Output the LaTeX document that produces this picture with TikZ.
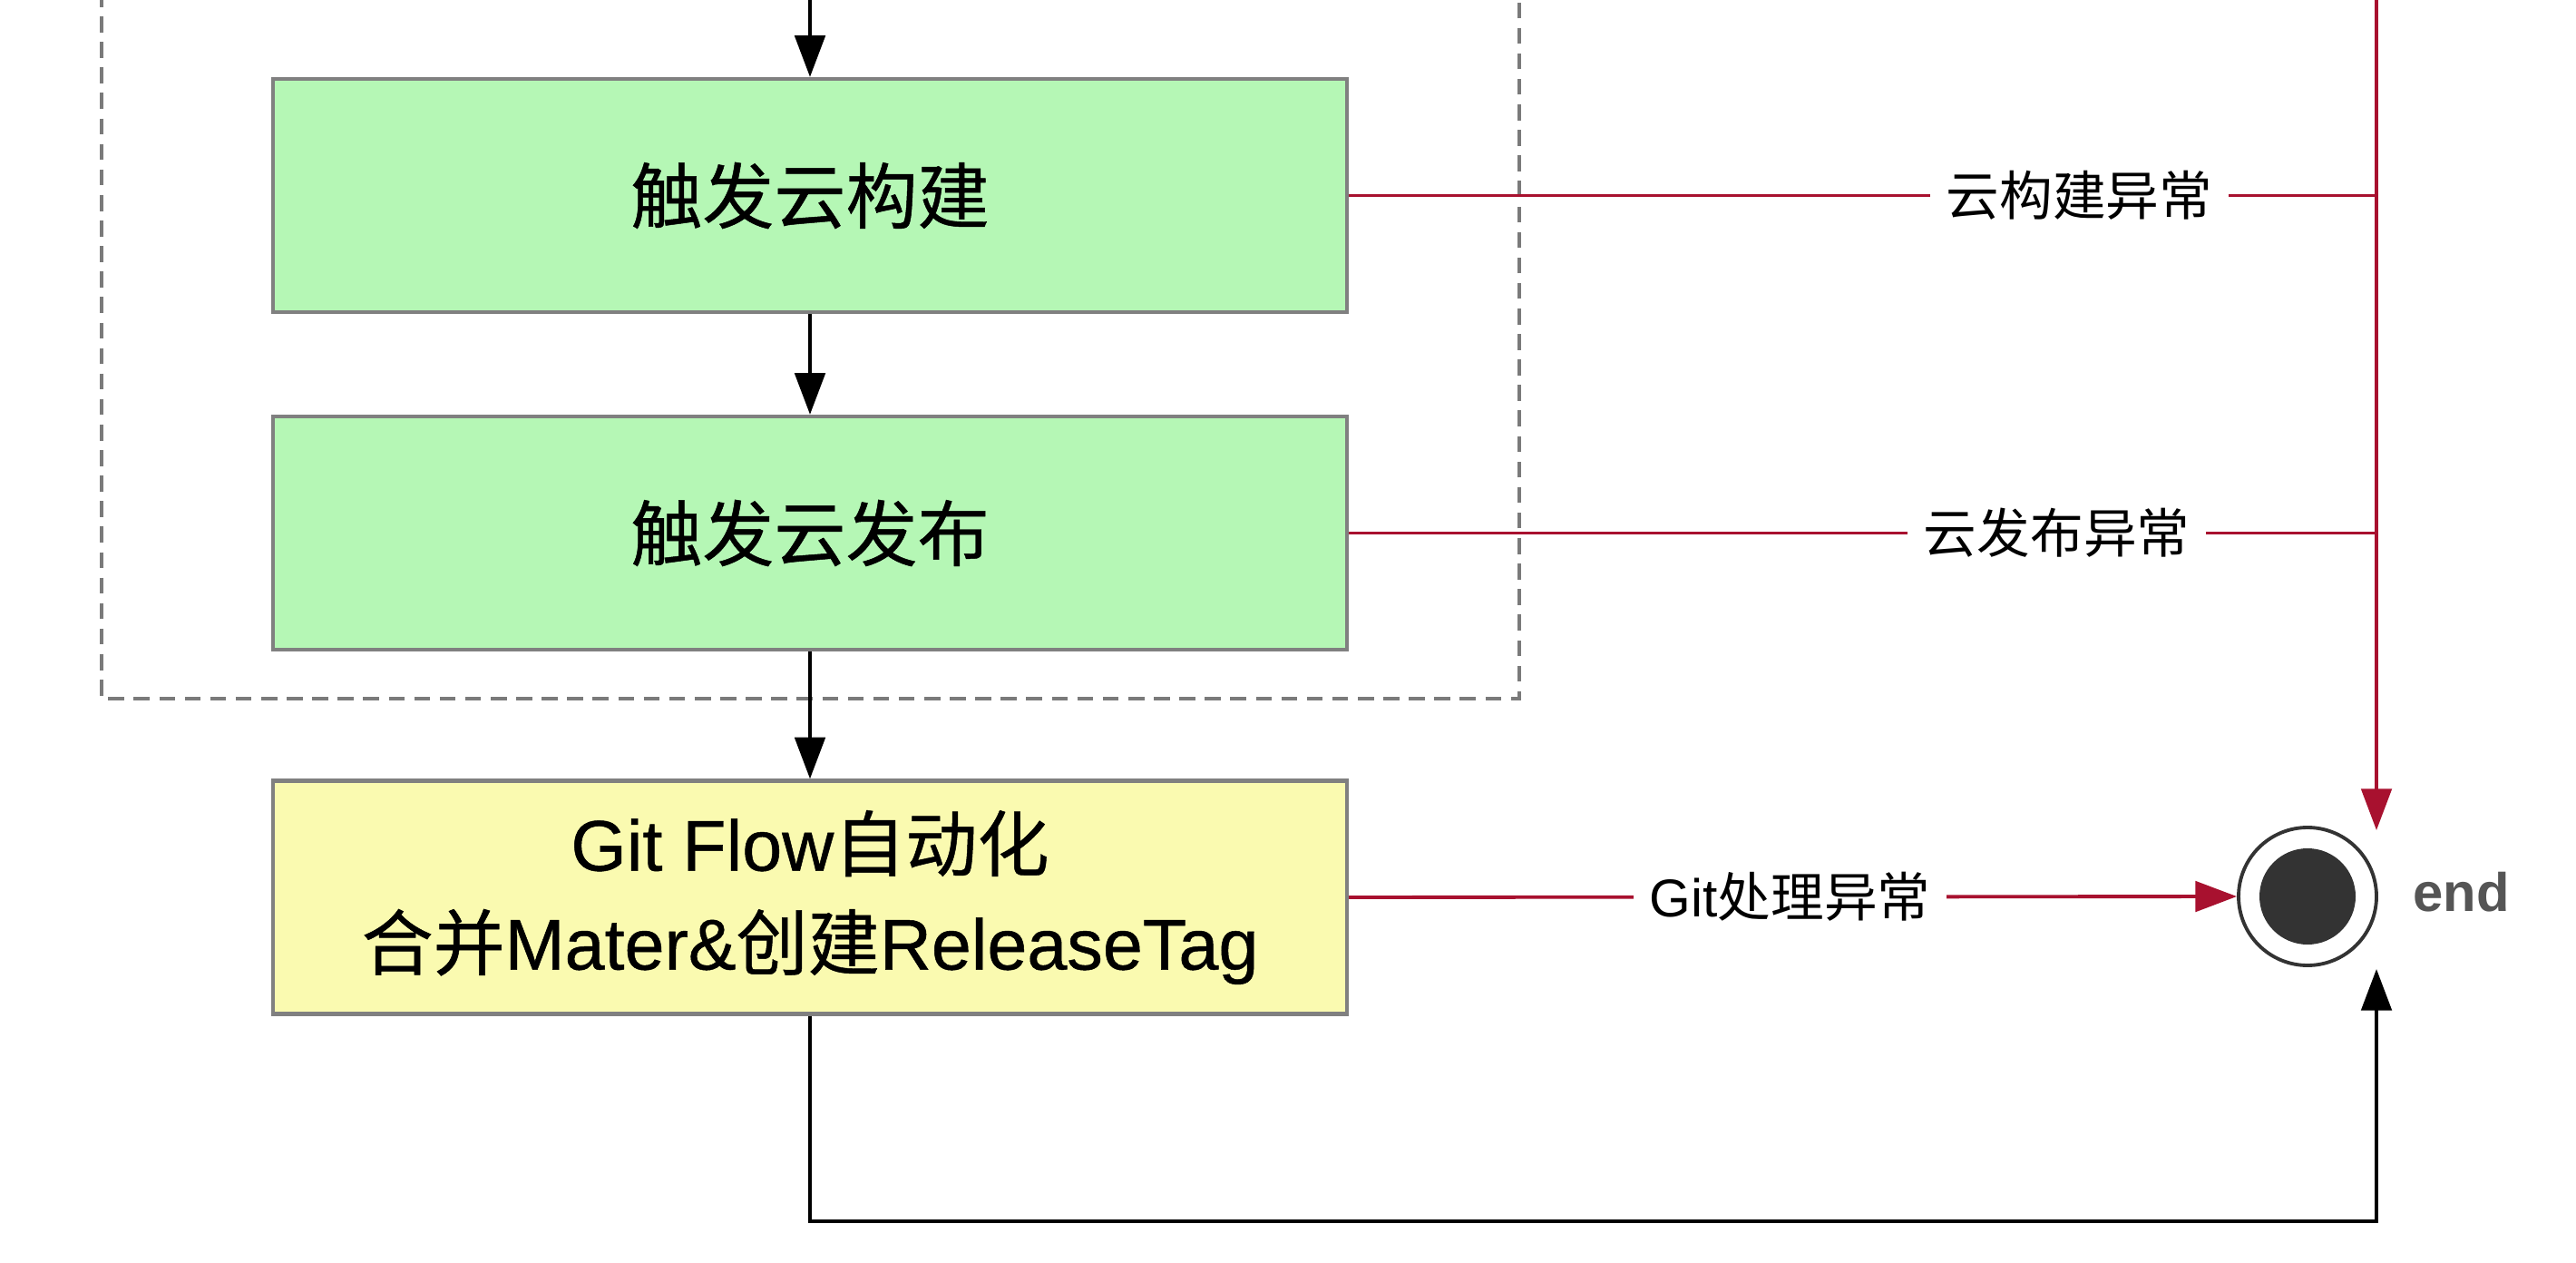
\documentclass[tikz,border=0pt]{standalone}
\usepackage{fontspec}
\setmainfont{Noto Sans CJK SC}
\newfontfamily\lat{Liberation Sans}
\newfontfamily\boxcjk[FakeBold=0.6]{Noto Sans CJK SC}
\newfontfamily\boxlat[FakeBold=0.6]{Liberation Sans}
\usetikzlibrary{arrows.meta}
\definecolor{boxgreen}{HTML}{B5F7B5}
\definecolor{boxyellow}{HTML}{FAFAB0}
\definecolor{errred}{HTML}{A8112F}
\definecolor{boxline}{HTML}{808080}
\definecolor{dashgray}{HTML}{7A7A7A}
\definecolor{enddark}{HTML}{333333}
\definecolor{endgray}{HTML}{555555}
\begin{document}
\begin{tikzpicture}[x=1cm,y=1cm,
  stepbox/.style={draw=boxline, line width=1.2pt, minimum width=11.84cm, minimum height=2.57cm,
    inner sep=0pt, font=\boxcjk\fontsize{22.5}{31}\selectfont, align=center},
  flow/.style={draw=black, line width=1.1pt, -{Triangle[length=13pt,width=9.5pt]}},
  err/.style={draw=errred, line width=1.1pt},
  errarrow/.style={draw=errred, line width=1.1pt, -{Triangle[length=13pt,width=9.5pt]}},
  lbl/.style={fill=white, inner xsep=5pt, inner ysep=2pt, font=\fontsize{16.7}{20}\selectfont, text=black},
  dashbox/.style={draw=dashgray, line width=1pt, dash pattern=on 5pt off 3pt}
]
\useasboundingbox (0,0) rectangle (28.4,-13.92);
\fill[white] (0,0) rectangle (28.4,-13.92);

% dashed group frame
\draw[dashbox] (1.12,0.1) -- (1.12,-7.7) -- (16.75,-7.7) -- (16.75,0.1);

% boxes
\node[stepbox, fill=boxgreen] (b1) at (8.93,-2.155) {触发云构建};
\node[stepbox, fill=boxgreen] (b2) at (8.93,-5.875) {触发云发布};
\node[stepbox, fill=boxyellow] (b3) at (8.93,-9.89) {{\boxlat Git Flow}自动化\\合并{\boxlat Mater\&}创建{\boxlat ReleaseTag}};

% end state
\node[circle, draw=enddark, line width=1.1pt, fill=white, minimum size=1.52cm, inner sep=0pt] (endc) at (25.44,-9.88) {};
\node[circle, fill=enddark, minimum size=1.06cm, inner sep=0pt] (endin) at (endc.center) {};
\node[anchor=west, text=endgray, font=\lat\bfseries\fontsize{17}{20}\selectfont, inner sep=0pt] (endlbl) at (26.6,-9.835) {end};

% helper coordinates
\coordinate (top) at (8.93,0);
\coordinate (rtop) at (26.2,0);
\coordinate (rtip) at (26.2,-9.15);
\coordinate (btip) at (26.2,-10.68);
\coordinate (bcorner) at (26.2,-13.46);

% main flow
\draw[flow] (top) -- (b1.north);
\draw[flow] (b1.south) -- (b2.north);
\draw[flow] (b2.south) -- (b3.north);
\draw[flow] (b3.south) |- (bcorner) -- (btip);

% error paths
\draw[errarrow] (rtop) -- (rtip);
\draw[err] (b1.east) -- (b1.east -| rtop) node[lbl, pos=0.711] {云构建异常};
\draw[err] (b2.east) -- (b2.east -| rtop) node[lbl, pos=0.689] {云发布异常};
\draw[errarrow] (b3.east) -- (endc.west) node[lbl, pos=0.497] {{\lat Git}处理异常};
\end{tikzpicture}
\end{document}
